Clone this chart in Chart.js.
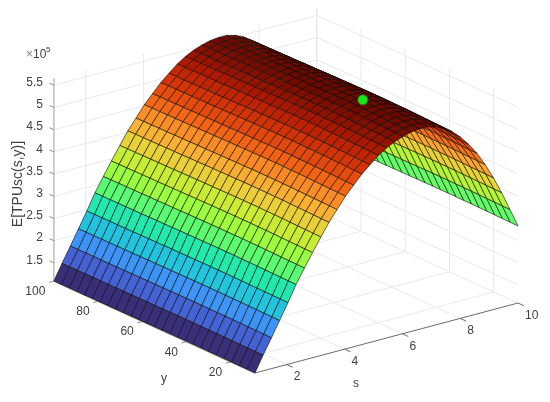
<!DOCTYPE html>
<html>
<head>
<meta charset="utf-8">
<script src="https://cdn.jsdelivr.net/npm/chart.js"></script>
<style>
    html, body { margin: 0; padding: 0; background: #fff; }
    canvas { display: block; }
</style>
</head>
<body>
<canvas id="myChart" width="550" height="402"></canvas>

<script>
    // Mesh positions
    var sValues = [0.9, 1.18, 1.47, 1.75, 2.04, 2.32, 2.61, 2.89, 3.18, 3.46, 3.74, 4.03, 4.31, 4.6, 4.88, 5.17, 5.45,
                   5.73, 6.02, 6.3, 6.59, 6.87, 7.16, 7.44, 7.73, 8.01, 8.29, 8.58, 8.86, 9.15, 9.43, 9.72, 10];
    var yValues = [9, 12.5, 16, 19.5, 23, 26.5, 30, 33.5, 37, 40.5, 44, 47.5, 51, 54.5, 58, 61.5, 65, 68.5, 72, 75.5,
                   79, 82.5, 86, 89.5, 93, 96.5, 100];

    // E[TPUsc] (x 10^5) across s, and how much it changes along y
    var zAlongS = [1.09, 1.44, 1.78, 2.12, 2.47, 2.83, 3.15, 3.45, 3.75, 4.03, 4.27, 4.52, 4.72, 4.92, 5.08, 5.24, 5.36,
                   5.45, 5.52, 5.57, 5.59, 5.59, 5.54, 5.46, 5.33, 5.16, 4.95, 4.7, 4.4, 4.05, 3.67, 3.24, 2.82];
    var yFactor = [1.002, 1.003, 1.004, 1.005, 1.006, 1.007, 1.008, 1.008, 1.009, 1.009, 1.009, 1.009, 1.008, 1.008,
                   1.007, 1.007, 1.006, 1.005, 1.005, 1.004, 1.003, 1.003, 1.002, 1.002, 1.001, 1.001, 1];

    // Maximum marker
    var markerS = [7];
    var markerY = [40];
    var markerZ = [5.48];

    var sTicks = [2, 4, 6, 8, 10];
    var yTicks = [20, 40, 60, 80, 100];
    var zTicks = [1.5, 2, 2.5, 3, 3.5, 4, 4.5, 5, 5.5];

    var sMin = 0.9, sMax = 10, yMin = 9, yMax = 100, zMin = 1.09, zMax = 5.66;

    var turbo = ['#30123b', '#4145ab', '#4675ed', '#39a2fc', '#1bcfd4', '#24eca6', '#61fc6c', '#a4fc3b',
                 '#d1e834', '#f3c63a', '#fe9b2d', '#f36315', '#d93806', '#b11901', '#6a0a02'];

    // Fixed view of the 3D box, gives the point in the chart's x/y units
    function project(s, y, z) {
        return {
            x: 255 + (s - sMin) * 28.9 - (y - yMin) * 2.21,
            y: 373 - (s - sMin) * 7.69 - (y - yMin) * 1.01 - (z - zMin) * 44.4
        };
    }

    function hexToRgb(h) {
        return [parseInt(h.substr(1, 2), 16), parseInt(h.substr(3, 2), 16), parseInt(h.substr(5, 2), 16)];
    }

    function colorFor(z) {
        var t = Math.min(1, Math.max(0, (z - 1.09) / (5.62 - 1.09))) * (turbo.length - 1);
        var i = Math.min(turbo.length - 2, Math.floor(t));
        var a = hexToRgb(turbo[i]), b = hexToRgb(turbo[i + 1]), f = t - i;
        return 'rgb(' + Math.round(a[0] + (b[0] - a[0]) * f) + ',' + Math.round(a[1] + (b[1] - a[1]) * f) + ',' +
            Math.round(a[2] + (b[2] - a[2]) * f) + ')';
    }

    function zAt(i, j) {
        return zAlongS[i] * yFactor[j];
    }

    var datasets = [];

    function addLine(points, color, width) {
        datasets.push({ data: points, borderColor: color, borderWidth: width, fill: false, pointRadius: 0 });
    }

    // Grid on floor and the two back walls
    var gridColor = '#e9e9e9';
    sTicks.forEach(function (s) {
        addLine([project(s, yMin, zMin), project(s, yMax, zMin), project(s, yMax, zMax)], gridColor, 1);
    });
    yTicks.forEach(function (y) {
        addLine([project(sMin, y, zMin), project(sMax, y, zMin), project(sMax, y, zMax)], gridColor, 1);
    });
    zTicks.forEach(function (z) {
        addLine([project(sMin, yMax, z), project(sMax, yMax, z), project(sMax, yMin, z)], gridColor, 1);
    });

    // Axis lines and tick marks
    addLine([project(sMin, yMax, zMin), project(sMin, yMax, zMax)], '#b4b4b4', 1.3);
    addLine([project(sMin, yMax, zMin), project(sMin, yMin, zMin)], '#a8a39e', 1.4);
    addLine([project(sMin, yMin, zMin), project(sMax, yMin, zMin)], '#6a6a6a', 1);
    zTicks.forEach(function (z) {
        addLine([project(sMin, yMax, z), project(sMin, yMax + 2, z)], '#8a8a8a', 1);
    });
    yTicks.forEach(function (y) {
        addLine([project(sMin, y, zMin), project(sMin - 0.17, y, zMin)], '#8a8a8a', 1);
    });
    sTicks.forEach(function (s) {
        addLine([project(s, yMin, zMin), project(s, yMin - 2.7, zMin)], '#6a6a6a', 1);
    });

    // Surface cells, far ones first so the nearer ones cover them
    for (var j = yValues.length - 2; j >= 0; j--) {
        for (var i = sValues.length - 2; i >= 0; i--) {
            var zMean = (zAt(i, j) + zAt(i + 1, j) + zAt(i + 1, j + 1) + zAt(i, j + 1)) / 4;
            datasets.push({
                data: [
                    project(sValues[i], yValues[j], zAt(i, j)),
                    project(sValues[i + 1], yValues[j], zAt(i + 1, j)),
                    project(sValues[i + 1], yValues[j + 1], zAt(i + 1, j + 1)),
                    project(sValues[i], yValues[j + 1], zAt(i, j + 1)),
                    project(sValues[i], yValues[j], zAt(i, j))
                ],
                backgroundColor: colorFor(zMean),
                borderColor: 'rgba(15,12,8,0.72)',
                borderWidth: 0.85,
                fill: 'shape',
                pointRadius: 0
            });
        }
    }

    datasets.push({
        data: [project(markerS[0], markerY[0], markerZ[0])],
        pointRadius: 5,
        pointBackgroundColor: '#19e619',
        pointBorderColor: '#2a7a10',
        pointBorderWidth: 1,
        showLine: false
    });

    // Chart.js paints the lowest order last
    datasets.forEach(function (d, n) { d.order = -n; });

    // Axis texts
    var axisText = {
        id: 'axisText',
        afterDraw: function (chart) {
            var c = chart.ctx, sx = chart.scales.x, sy = chart.scales.y;
            var px = function (p) { return { x: sx.getPixelForValue(p.x), y: sy.getPixelForValue(p.y) }; };
            c.save();
            c.fillStyle = '#404040';
            c.font = '12px "Liberation Sans"';
            c.textBaseline = 'middle';

            c.textAlign = 'right';
            zTicks.forEach(function (z) {
                var p = px(project(sMin, yMax, z));
                c.fillText(String(z), p.x - 11, p.y - 2.5);
            });
            yTicks.forEach(function (y) {
                var p = px(project(sMin, y, zMin));
                c.fillText(String(y), p.x - 8.5, p.y + 10.5);
            });

            c.textAlign = 'left';
            sTicks.forEach(function (s) {
                var p = px(project(s, yMin, zMin));
                c.fillText(String(s), p.x + 7, p.y + 12.5);
            });

            c.textAlign = 'center';
            c.fillText('y', 164, 379);
            c.fillText('s', 356, 384);

            c.textAlign = 'left';
            c.fillStyle = '#808080';
            c.fillText('\u00d7', 26, 55);
            c.fillStyle = '#404040';
            c.fillText('10', 33, 55);
            c.font = '8px "Liberation Sans"';
            c.fillText('5', 46, 50);

            c.font = '14px "Liberation Sans"';
            c.textAlign = 'center';
            c.translate(18, 184);
            c.rotate(-Math.PI / 2);
            c.fillText('E[TPUsc(s,y)]', 0, 0);
            c.restore();
        }
    };

    var ctx = document.getElementById('myChart').getContext('2d');
    var myChart = new Chart(ctx, {
        type: 'scatter',
        data: { datasets: datasets },
        options: {
            responsive: false,
            animation: false,
            events: [],
            showLine: true,
            layout: { padding: 0, autoPadding: false },
            elements: { line: { tension: 0 } },
            plugins: { legend: { display: false }, tooltip: { enabled: false } },
            scales: {
                x: { type: 'linear', min: 0, max: 550, display: false },
                y: { type: 'linear', min: 0, max: 402, reverse: true, display: false }
            }
        },
        plugins: [axisText]
    });
</script>
</body>
</html>
